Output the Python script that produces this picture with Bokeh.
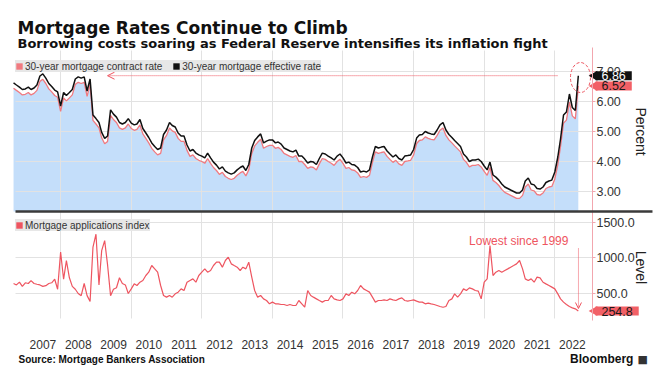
import math
import pandas as pd
from bokeh.plotting import figure
from bokeh.models import (Range1d, FixedTicker, DatetimeTickFormatter, Legend, LegendItem,
                          Label, Arrow, OpenHead)
from bokeh.embed import file_html
from bokeh.resources import INLINE

# ---------------- data (monthly, Sep 2006 .. Sep 2022) ----------------
months = pd.date_range("2006-09-01", "2022-09-01", freq="MS")

effective_rate = [
    6.62, 6.55, 6.48, 6.40,
    6.42, 6.48, 6.40, 6.45, 6.55, 6.85, 6.92, 6.78, 6.60, 6.50, 6.38, 6.32,
    5.85, 6.30, 6.20, 6.30, 6.40, 6.75, 6.82, 6.78, 6.82, 6.35, 6.75, 5.55,
    5.43, 5.30, 4.97, 4.77, 4.85, 5.72, 5.58, 5.48, 5.30, 5.25, 5.30, 5.43,
    5.28, 5.22, 5.25, 5.40, 5.10, 4.95, 4.80, 4.62, 4.50, 4.40, 4.45, 4.90,
    5.05, 5.30, 5.20, 5.15, 4.95, 4.85, 4.85, 4.55, 4.35, 4.40, 4.28, 4.22,
    4.18, 4.12, 4.28, 4.12, 3.98, 3.88, 3.75, 3.82, 3.68, 3.62, 3.58, 3.62,
    3.72, 3.80, 3.85, 3.70, 3.90, 4.45, 4.70, 4.82, 4.92, 4.62, 4.68, 4.72,
    4.72, 4.62, 4.65, 4.58, 4.45, 4.40, 4.35, 4.32, 4.38, 4.18, 4.18, 4.08,
    3.95, 4.00, 3.98, 3.90, 4.10, 4.28, 4.25, 4.18, 4.12, 4.05, 4.18, 4.25,
    4.12, 3.95, 3.98, 3.90, 3.88, 3.80, 3.65, 3.68, 3.65, 3.72, 4.15, 4.50,
    4.45, 4.48, 4.50, 4.35, 4.25, 4.15, 4.22, 4.10, 4.05, 4.18, 4.20, 4.22,
    4.40, 4.78, 4.88, 4.90, 5.00, 4.95, 4.92, 4.90, 5.05, 5.22, 5.30, 5.05,
    4.90, 4.80, 4.70, 4.60, 4.50, 4.25, 4.15, 4.00, 4.05, 4.05, 4.08, 4.00,
    3.85, 3.72, 3.98, 3.55, 3.48, 3.38, 3.25, 3.15, 3.10, 3.05, 3.00, 2.95,
    2.95, 3.05, 3.35, 3.45, 3.25, 3.22, 3.10, 3.08, 3.15, 3.30, 3.35, 3.38,
    3.65, 4.15, 4.75, 5.55, 5.65, 6.25, 5.80, 5.70, 6.86,
]

contract_rate = [
    6.44, 6.37, 6.30, 6.22,
    6.24, 6.30, 6.22, 6.27, 6.37, 6.67, 6.74, 6.60, 6.42, 6.32, 6.20, 6.14,
    5.67, 6.12, 6.02, 6.12, 6.22, 6.57, 6.64, 6.60, 6.64, 6.17, 6.57, 5.37,
    5.25, 5.12, 4.79, 4.59, 4.67, 5.54, 5.40, 5.30, 5.12, 5.07, 5.12, 5.25,
    5.10, 5.04, 5.07, 5.22, 4.92, 4.77, 4.62, 4.44, 4.32, 4.22, 4.27, 4.72,
    4.87, 5.12, 5.02, 4.97, 4.77, 4.67, 4.67, 4.37, 4.17, 4.22, 4.10, 4.04,
    4.00, 3.94, 4.10, 3.94, 3.80, 3.70, 3.57, 3.64, 3.50, 3.44, 3.40, 3.44,
    3.54, 3.62, 3.67, 3.52, 3.72, 4.27, 4.52, 4.64, 4.74, 4.44, 4.50, 4.54,
    4.54, 4.44, 4.47, 4.40, 4.27, 4.22, 4.17, 4.14, 4.20, 4.00, 4.00, 3.90,
    3.77, 3.82, 3.80, 3.72, 3.92, 4.10, 4.07, 4.00, 3.94, 3.87, 4.00, 4.07,
    3.94, 3.77, 3.80, 3.72, 3.70, 3.62, 3.47, 3.50, 3.47, 3.54, 3.97, 4.32,
    4.27, 4.30, 4.32, 4.17, 4.07, 3.97, 4.04, 3.92, 3.87, 4.00, 4.02, 4.04,
    4.22, 4.60, 4.70, 4.72, 4.82, 4.77, 4.74, 4.72, 4.87, 5.04, 5.12, 4.87,
    4.72, 4.62, 4.52, 4.42, 4.32, 4.07, 3.97, 3.82, 3.87, 3.87, 3.90, 3.82,
    3.67, 3.54, 3.80, 3.37, 3.30, 3.20, 3.07, 2.97, 2.92, 2.87, 2.82, 2.77,
    2.77, 2.87, 3.15, 3.25, 3.05, 3.02, 2.90, 2.88, 2.95, 3.10, 3.15, 3.17,
    3.42, 3.90, 4.50, 5.28, 5.38, 5.98, 5.52, 5.42, 6.52,
]

applications_index = [
    640, 620, 660, 600,
    650, 640, 680, 640, 630, 620, 600, 610, 640, 650, 700, 560,
    1080, 700, 960, 720, 600, 560, 500, 470, 640, 470, 390, 1150,
    1330, 620, 1100, 1240, 900, 470, 560, 580, 720, 640, 620, 500,
    565, 635, 612, 658, 682, 752, 799, 892, 845, 799, 612, 472,
    449, 472, 449, 495, 519, 565, 542, 658, 682, 705, 658, 752,
    799, 845, 799, 822, 892, 939, 939, 869, 962, 1009, 915, 892,
    869, 822, 869, 845, 939, 729, 542, 449, 472, 425, 402, 355,
    379, 355, 355, 346, 346, 332, 346, 332, 332, 402, 355, 308,
    542, 472, 449, 425, 402, 379, 402, 402, 472, 425, 411, 402,
    425, 495, 472, 519, 495, 542, 612, 565, 542, 519, 449, 379,
    402, 402, 411, 402, 425, 411, 402, 425, 439, 402, 393, 402,
    411, 393, 379, 379, 355, 365, 355, 346, 332, 318, 308, 318,
    402, 425, 495, 449, 495, 565, 542, 579, 565, 542, 533, 425,
    658, 705, 1172, 752, 799, 822, 799, 822, 845, 869, 892, 915,
    962, 845, 705, 682, 705, 658, 729, 719, 658, 635, 612, 589,
    565, 495, 425, 379, 346, 318, 299, 285, 254.8,
]

year_labels = list(range(2007, 2023))
grid_years = list(range(2008, 2023, 2))
rate_ticks = [3, 4, 5, 6, 7]
apps_ticks = [500, 1000, 1500]

# ---------------- page geometry -> data ranges ----------------
W, H = 660, 370                 # figure == frame (all axes sit inside it)
PX_PER_YEAR, MID2007_PX = 35.3, 42.5
PX_PER_PCT, PCT6_PX = 30.0, 101.0
PX_PER_500, APPS500_PX = 35.7, 293.0


def ms(s):
    return pd.Timestamp(s).value / 1e6


def year_ms(yf):
    y = math.floor(yf)
    a, b = ms(f"{y}-01-01"), ms(f"{y + 1}-01-01")
    return a + (yf - y) * (b - a)


def px_x(px):
    return year_ms(2007.5 + (px - MID2007_PX) / PX_PER_YEAR)


def px_rate(py):
    return 6.0 + (PCT6_PX - py) / PX_PER_PCT


def px_apps(py):
    return 500.0 + (APPS500_PX - py) * 500.0 / PX_PER_500


def apps_as_rate(a):
    return px_rate(APPS500_PX - (a - 500.0) * PX_PER_500 / 500.0)


SPLIT = px_rate(211)            # boundary between the two panels
FRAME_BOTTOM = px_rate(320)
FRAME_TOP = px_rate(50)
X_LEFT, X_AXIS = px_x(15), px_x(592)

BLUE = "#c4defa"
PINK = "#f07a80"
RED = "#ee5560"
TAG_RED = "#f26066"
AXIS_PINK = "#f2a6ae"
TXT = "#333333"

p = figure(width=W, height=H, x_axis_type="datetime",
           x_range=Range1d(px_x(0), px_x(W)), y_range=Range1d(px_rate(H), px_rate(0)),
           y_axis_location="right", output_backend="svg", toolbar_location=None,
           min_border=0, min_border_left=0, min_border_right=0,
           min_border_top=0, min_border_bottom=0)
p.extra_y_ranges = {"apps": Range1d(px_apps(H), px_apps(0))}
p.outline_line_color = None
p.background_fill_color = "white"
p.border_fill_color = "white"

# ---------------- axes and grids ----------------
yticks = [apps_as_rate(a) for a in apps_ticks] + [float(r) for r in rate_ticks]
overrides = {apps_as_rate(a): f"{a:.1f}" for a in apps_ticks}
overrides.update({float(r): f"{r:.2f}" for r in rate_ticks})

ay = p.yaxis[0]
ay.fixed_location = X_AXIS
ay.bounds = (FRAME_BOTTOM, px_rate(47))
ay.ticker = FixedTicker(ticks=yticks)
ay.major_label_overrides = overrides
ay.axis_line_color = AXIS_PINK
ay.major_tick_line_color = AXIS_PINK
ay.major_tick_out = 3
ay.major_tick_in = 0
ay.minor_tick_line_color = None
ay.major_label_standoff = 1
ay.major_label_text_font = "Liberation Sans"
ay.major_label_text_font_size = "12.5px"
ay.major_label_text_color = TXT

ax = p.xaxis[0]
ax.fixed_location = FRAME_BOTTOM
ax.ticker = FixedTicker(ticks=[ms(f"{y}-07-02") for y in year_labels])
ax.formatter = DatetimeTickFormatter(years="%Y", months="%Y", days="%Y", hours="%Y",
                                     hourmin="%Y", minutes="%Y", minsec="%Y",
                                     seconds="%Y", milliseconds="%Y", microseconds="%Y")
ax.axis_line_color = None
ax.major_tick_line_color = None
ax.minor_tick_line_color = None
ax.major_label_standoff = 13
ax.major_label_text_font = "Liberation Sans"
ax.major_label_text_font_size = "12px"
ax.major_label_text_color = TXT

gx, gy = p.xgrid[0], p.ygrid[0]
gx.ticker = FixedTicker(ticks=[ms(f"{y}-01-01") for y in grid_years])
gx.cross_bounds = (px_rate(318), FRAME_TOP)
gy.ticker = FixedTicker(ticks=yticks)
gy.cross_bounds = (X_LEFT, X_AXIS)
for g in (gx, gy):
    g.grid_line_color = "#e2e2e2"
    g.grid_line_width = 1

# ---------------- top panel ----------------
area = p.varea(x=months, y1=SPLIT, y2=contract_rate, fill_color=BLUE)
area.level = "image"
p.line(months, contract_rate, line_color=PINK, line_width=1.3)
p.line(months, effective_rate, line_color="#111111", line_width=1.5)

p.add_layout(Arrow(start=None, end=None, x_start=X_LEFT, x_end=px_x(652),
                   y_start=SPLIT, y_end=SPLIT, line_color="#3a3a3a", line_width=2.5))

# ---------------- bottom panel ----------------
p.line(months, applications_index, line_color=RED, line_width=1.2, y_range_name="apps")

# ---------------- legends (swatches drawn off-canvas) ----------------
off = [px_rate(H) - 5]
sw_contract = p.quad(left=[X_LEFT], right=[X_LEFT], top=off, bottom=off,
                     fill_color=PINK, line_color=None)
sw_effective = p.quad(left=[X_LEFT], right=[X_LEFT], top=off, bottom=off,
                      fill_color="#111111", line_color=None)
sw_apps = p.quad(left=[X_LEFT], right=[X_LEFT], top=off, bottom=off,
                 fill_color=RED, line_color=None)


def make_legend(items, location):
    lg = Legend(items=items, location=location, orientation="horizontal",
                margin=0, padding=4, spacing=10, glyph_width=8, glyph_height=8,
                label_standoff=2, label_height=12,
                label_text_font="Liberation Sans", label_text_font_size="10px",
                label_text_color=TXT, label_text_baseline="middle",
                background_fill_color="#e6e6e6",
                background_fill_alpha=0.95, border_line_color=None)
    p.add_layout(lg, "center")
    return lg


make_legend([LegendItem(label="30-year mortgage contract rate", renderers=[sw_contract]),
             LegendItem(label="30-year mortgage effective rate", renderers=[sw_effective])],
            (15, H - 72))
make_legend([LegendItem(label="Mortgage applications index", renderers=[sw_apps])],
            (15, H - 231))

# ---------------- annotations ----------------
p.add_layout(Arrow(end=OpenHead(size=7, line_color=RED, line_width=1),
                   x_start=px_x(557), y_start=effective_rate[-1],
                   x_end=px_x(107), y_end=effective_rate[-1],
                   line_color=RED, line_dash="1 1", line_width=1))
p.ellipse(x=[px_x(580)], y=[px_rate(77)], width=20, height=30, width_units="screen",
          height_units="screen", fill_color=None, line_color=RED, line_dash="3 2",
          line_width=1)

p.add_layout(Label(x=px_x(568), y=px_apps(240), y_range_name="apps", text="Lowest since 1999",
                   text_align="right", text_baseline="middle", text_color=RED,
                   text_font="Liberation Sans", text_font_size="12px"))
p.add_layout(Arrow(end=OpenHead(size=6, line_color=RED, line_width=1),
                   x_start=px_x(578), y_start=px_apps(248), x_end=px_x(578),
                   y_end=px_apps(308), y_range_name="apps", line_color=RED,
                   line_dash="1 1", line_width=1))


def tag(y, text, bg, fg, yr="default"):
    p.scatter(x=[px_x(594)], y=[y], y_range_name=yr, marker="triangle", angle=math.pi / 2,
              size=10, fill_color=bg, line_color=None)
    p.add_layout(Label(x=px_x(595), y=y, y_range_name=yr, text=text,
                       text_align="left", text_baseline="middle",
                       text_font="Liberation Sans", text_font_size="12.5px",
                       text_color=fg, background_fill_color=bg,
                       padding=dict(left=6, right=6, top=0, bottom=0)))


tag(effective_rate[-1], f"{effective_rate[-1]:.2f}", "#111111", "white")
tag(contract_rate[-1], f"{contract_rate[-1]:.2f}", TAG_RED, "#1a1a1a")
tag(applications_index[-1], f"{applications_index[-1]:.1f}", TAG_RED, "#1a1a1a", "apps")

# axis titles
p.add_layout(Label(x=px_x(641), y=px_rate(131), text="Percent", angle=-math.pi / 2,
                   text_align="center", text_baseline="middle", text_font="Liberation Sans",
                   text_font_size="14px", text_color="#222222"))
p.add_layout(Label(x=px_x(641), y=px_rate(267), text="Level", angle=-math.pi / 2,
                   text_align="center", text_baseline="middle", text_font="Liberation Sans",
                   text_font_size="14px", text_color="#222222"))

# titles
p.add_layout(Label(x=px_x(17), y=px_rate(27), text="Mortgage Rates Continue to Climb",
                   text_font="DejaVu Sans", text_font_style="bold", text_font_size="17px",
                   text_color="#111111", text_baseline="alphabetic"))
p.add_layout(Label(x=px_x(17), y=px_rate(42.5),
                   text="Borrowing costs soaring as Federal Reserve intensifies its inflation fight",
                   text_font="DejaVu Sans", text_font_style="bold", text_font_size="13px",
                   text_color="#111111", text_baseline="alphabetic"))

# footer
p.add_layout(Label(x=px_x(18), y=px_rate(359), text="Source: Mortgage Bankers Association",
                   text_font="Liberation Sans", text_font_style="bold", text_font_size="10px",
                   text_color="#111111", text_baseline="alphabetic"))
p.add_layout(Label(x=px_x(633), y=px_rate(358), text="Bloomberg", text_align="right",
                   text_font="Liberation Sans", text_font_style="bold", text_font_size="12px",
                   text_color="#111111", text_baseline="alphabetic"))
p.add_layout(Label(x=px_x(637), y=px_rate(359), text="\u25a0", text_align="left",
                   text_font="DejaVu Sans", text_font_size="11px", text_color="#333333",
                   text_baseline="alphabetic"))

open("out.html", "w").write(file_html(p, INLINE))
